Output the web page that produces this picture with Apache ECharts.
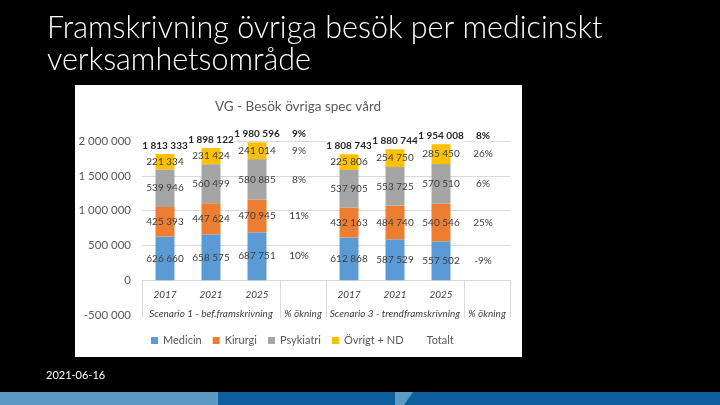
<!DOCTYPE html>
<html><head><meta charset="utf-8">
<script src="https://cdn.jsdelivr.net/npm/echarts@6/dist/echarts.min.js"></script>
<style>html,body{margin:0;padding:0;background:#000}#c{width:720px;height:405px}</style>
</head><body><div id="c"></div>
<script>
// ---- data ----
const categories = ['S1 2017','S1 2021','S1 2025','S1 ökning','S3 2017','S3 2021','S3 2025','S3 ökning'];
const yearLabels = ['2017','2021','2025','','2017','2021','2025',''];
const groupLabels = ['','Scenario 1 - bef.framskrivning','','% ökning','','Scenario 3 - trendframskrivning','','% ökning'];
const medicin   = [626660, 658575, 687751, null, 612868, 587529, 557502, null];
const kirurgi   = [425393, 447624, 470945, null, 432163, 484740, 540546, null];
const psykiatri = [539946, 560499, 580885, null, 537905, 553725, 570510, null];
const ovrigt    = [221334, 231424, 241014, null, 225806, 254750, 285450, null];
const totalt    = [1813333, 1898122, 1980596, null, 1808743, 1880744, 1954008, null];
const pctMedicin   = ['10%', '-9%'];
const pctKirurgi   = ['11%', '25%'];
const pctPsykiatri = ['8%', '6%'];
const pctOvrigt    = ['9%', '26%'];
const pctTotalt    = ['9%', '8%'];
const yMin = -500000, yMax = 2000000, yInterval = 500000;

// ---- helpers ----
const fmt = v => String(v).replace(/\B(?=(\d{3})+(?!\d))/g, ' ');
const FONT = 'Lato';
function withPct(arr, pct) {
  return arr.map((v, i) => {
    if (v === null) {
      const src = arr[i - 1];
      const p = pct[i === 3 ? 0 : 1];
      return { value: src, itemStyle: { color: 'rgba(0,0,0,0)' }, label: { formatter: p, offset: [-4, 0] } };
    }
    return v;
  });
}
function barSeries(name, arr, pct, color) {
  return {
    name, type: 'bar', stack: 'tot', barWidth: 19,
    itemStyle: { color },
    label: { show: true, position: 'inside', color: '#404040', fontSize: 10, fontFamily: FONT,
             formatter: p => fmt(p.value) },
    emphasis: { disabled: true },
    data: withPct(arr, pct)
  };
}

const chart = echarts.init(document.getElementById('c'));
chart.setOption({
  backgroundColor: '#000',
  animation: false,
  graphic: [
    { type: 'rect', z: -100, shape: { x: 75, y: 85, width: 447, height: 272 }, style: { fill: '#fff' } },
    { type: 'text', left: 47, top: 12, z: 10,
      style: { text: 'Framskrivning övriga besök per medicinskt\nverksamhetsområde', fill: '#fff',
               font: '300 30.5px Lato', lineHeight: 32 } },
    { type: 'text', left: 46, top: 370, style: { text: '2021-06-16', fill: '#fff', font: '11px Lato' } },
    { type: 'rect', shape: { x: 0, y: 392, width: 218, height: 13 }, style: { fill: '#5b9bc4' } },
    { type: 'rect', shape: { x: 218, y: 392, width: 502, height: 13 }, style: { fill: '#0b5f9c' } },
    { type: 'polygon', shape: { points: [[395, 392], [413, 392], [404, 405], [395, 405]] }, style: { fill: '#5b9bc4' } }
  ],
  title: {
    text: 'VG - Besök övriga spec vård', left: 293, top: 95, textAlign: 'center',
    textStyle: { color: '#595959', fontSize: 13.5, fontWeight: 'normal', fontFamily: FONT }
  },
  legend: {
    left: 146, top: 330, icon: 'rect', itemWidth: 7, itemHeight: 7, itemGap: 11,
    textStyle: { color: '#595959', fontSize: 11, fontFamily: FONT },
    data: [
      { name: 'Medicin' }, { name: 'Kirurgi' }, { name: 'Psykiatri' }, { name: 'Övrigt + ND' },
      { name: 'Totalt', icon: 'none' }
    ]
  },
  grid: { left: 142, right: 210, top: 141, bottom: 90 },
  xAxis: {
    type: 'category', data: categories, offset: -35,
    axisLine: { show: false, onZero: false },
    axisTick: { show: true, length: 38, interval: (i) => i === 0 || i === 3 || i === 4 || i === 7,
                lineStyle: { color: '#d9d9d9' } },
    axisLabel: { interval: 0, margin: 5, lineHeight: 19, fontStyle: 'italic', fontSize: 10,
                 color: '#404040', fontFamily: FONT,
                 formatter: (v, i) => yearLabels[i] + '\n' + groupLabels[i] },
    splitLine: { show: false }
  },
  yAxis: {
    type: 'value', min: yMin, max: yMax, interval: yInterval,
    axisLine: { show: false }, axisTick: { show: false },
    axisLabel: { color: '#595959', fontSize: 11.5, fontFamily: FONT, margin: 11, formatter: v => fmt(v) },
    splitLine: { lineStyle: { color: ['rgba(0,0,0,0)', '#d9d9d9', '#d9d9d9', '#d9d9d9', '#d9d9d9', '#d9d9d9'] } }
  },
  series: [
    barSeries('Medicin', medicin, pctMedicin, '#5b9bd5'),
    barSeries('Kirurgi', kirurgi, pctKirurgi, '#ed7d31'),
    barSeries('Psykiatri', psykiatri, pctPsykiatri, '#a5a5a5'),
    barSeries('Övrigt + ND', ovrigt, pctOvrigt, '#ffc000'),
    {
      name: 'Totalt', type: 'line', symbol: 'circle', symbolSize: 1, z: 5,
      lineStyle: { opacity: 0 }, itemStyle: { color: 'rgba(0,0,0,0)' },
      label: { show: true, position: 'top', distance: 2, color: '#262626', fontWeight: 'bold',
               fontSize: 10, fontFamily: FONT, backgroundColor: '#fff', padding: [1, 1],
               formatter: p => fmt(p.value) },
      emphasis: { disabled: true },
      data: withPct(totalt, pctTotalt)
    }
  ]
});
</script></body></html>
